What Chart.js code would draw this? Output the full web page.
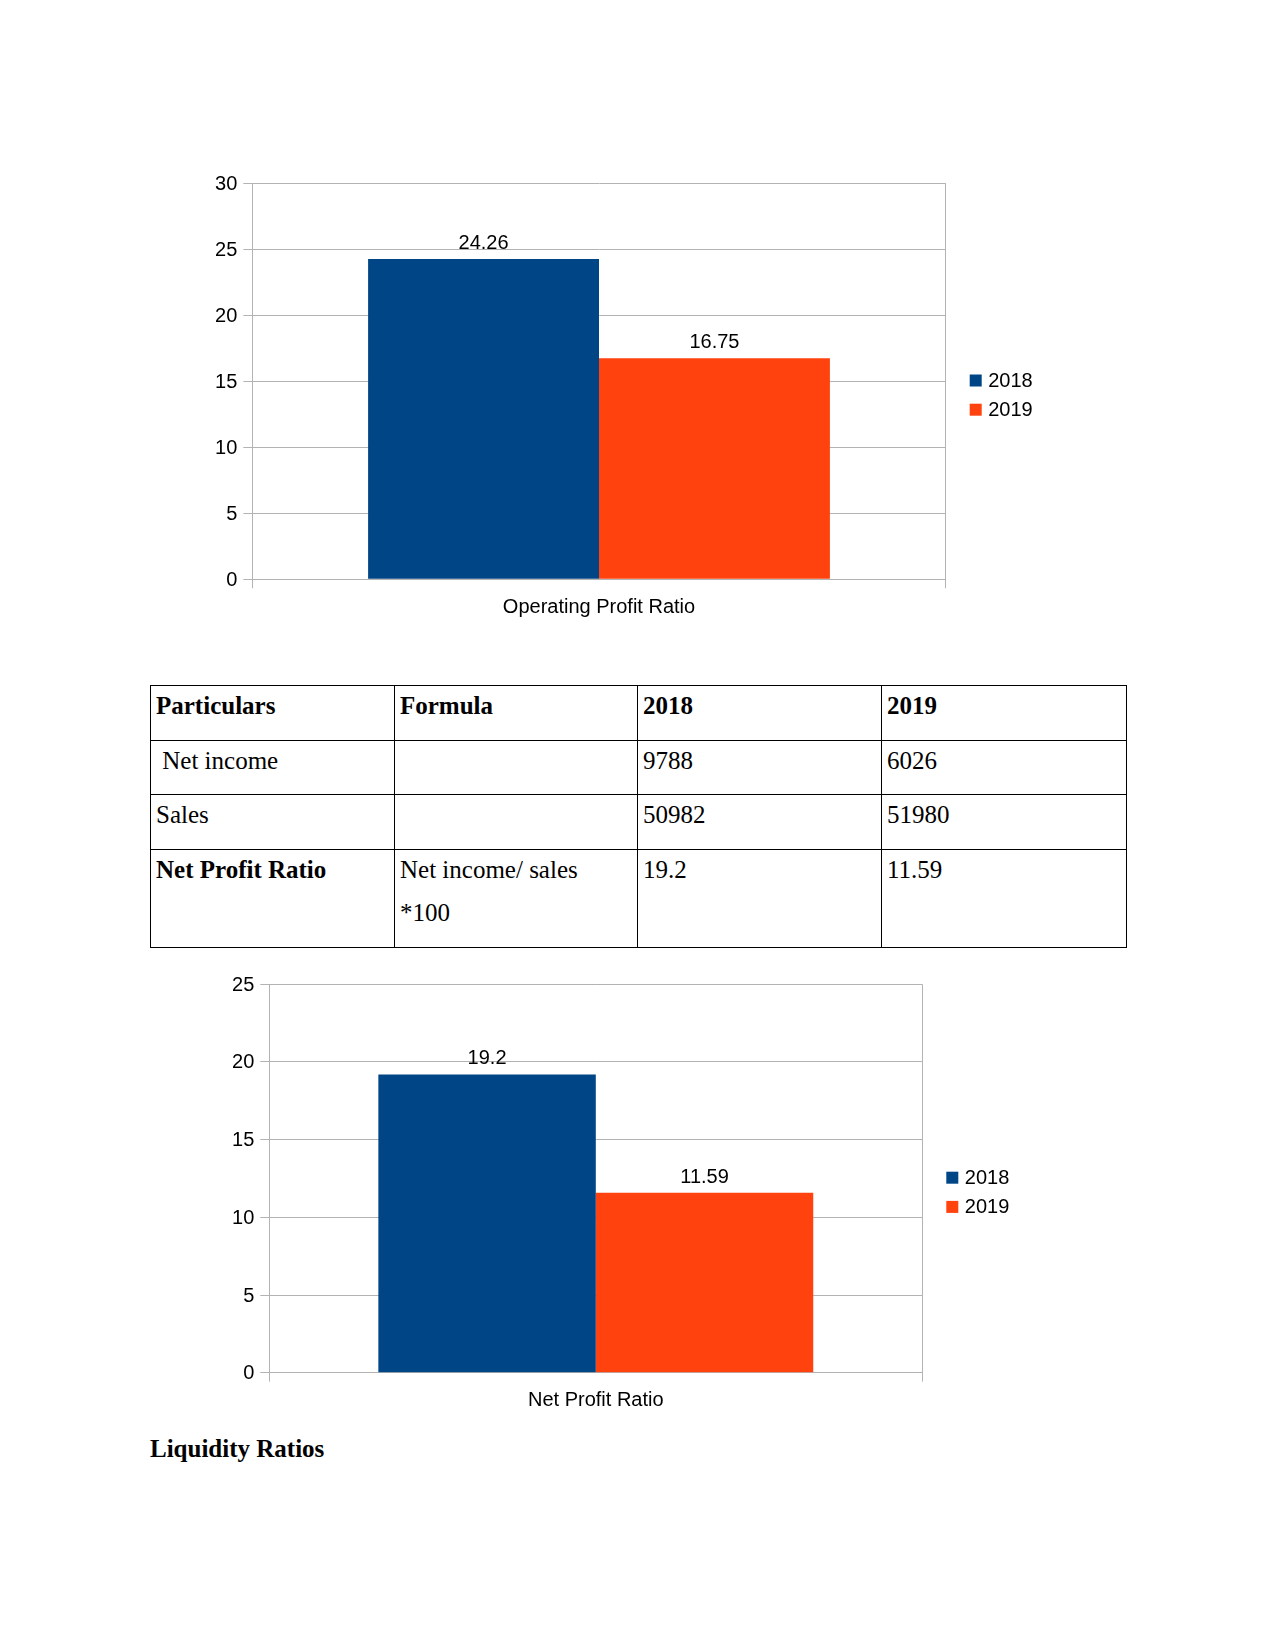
<!DOCTYPE html>
<html>
<head>
<meta charset="utf-8">
<script src="https://cdn.jsdelivr.net/npm/chart.js@4.4.1/dist/chart.umd.min.js"></script>
<style>
  body { margin: 0; background: #fff; }
  .page { position: relative; width: 1275px; height: 1650px; }
  canvas { position: absolute; }
  .grid {
    position: absolute; left: 150px; top: 685px;
    display: grid;
    grid-template-columns: 244px 243px 244px 245px;
    grid-template-rows: 55px 54px 55px 98px;
    border-left: 1px solid #000; border-top: 1px solid #000;
    font-family: "Liberation Serif", serif; font-size: 25px; color: #000;
  }
  .grid div.cell {
    border-right: 1px solid #000; border-bottom: 1px solid #000;
    padding-left: 5px; line-height: 42.7px;
  }
  .grid div.cell span { position: relative; top: -1px; }
  .bold { font-weight: bold; }
  .heading {
    position: absolute; left: 150px; top: 1435px;
    font-family: "Liberation Serif", serif; font-size: 25px; font-weight: bold;
  }
</style>
</head>
<body>
<div class="page">
  <canvas id="opChart" width="900" height="480" style="left:150px; top:150px;"></canvas>
  <div class="grid" id="ratioTable"></div>
  <canvas id="netChart" width="900" height="480" style="left:150px; top:955px;"></canvas>
  <div class="heading">Liquidity Ratios</div>
</div>
<script>
const seriesLabels = ['2018', '2019'];
const seriesColors = ['#004586', '#ff420e'];

const opCategories = ['Operating Profit Ratio'];
const opValues2018 = [24.26];
const opValues2019 = [16.75];

const netCategories = ['Net Profit Ratio'];
const netValues2018 = [19.2];
const netValues2019 = [11.59];

const tableHeader = ['Particulars', 'Formula', '2018', '2019'];
const tableRows = [
    ['\u00a0Net income', '', '9788', '6026'],
    ['Sales', '', '50982', '51980'],
    ['Net Profit Ratio', 'Net income/ sales<br>*100', '19.2', '11.59']
];

const FONT = '"Liberation Sans", Arial, sans-serif';

function buildTable() {
    const table = document.getElementById('ratioTable');
    const rows = [tableHeader].concat(tableRows);
    rows.forEach((row, r) => {
        row.forEach((text, c) => {
            const cell = document.createElement('div');
            cell.className = 'cell';
            if (r === 0 || (r === 3 && c === 0)) cell.classList.add('bold');
            cell.innerHTML = '<span>' + text + '</span>';
            table.appendChild(cell);
        });
    });
}

const barLabels = {
    id: 'barLabels',
    afterDatasetsDraw(chart) {
        const ctx = chart.ctx;
        ctx.save();
        ctx.font = '20px ' + FONT;
        ctx.fillStyle = '#000';
        ctx.textAlign = 'center';
        ctx.textBaseline = 'alphabetic';
        chart.data.datasets.forEach((ds, i) => {
            chart.getDatasetMeta(i).data.forEach((bar, j) => {
                ctx.fillText(String(ds.data[j]), bar.x, bar.y - 10);
            });
        });
        ctx.restore();
    }
};

// legend to the right of the plot, like the office chart
const sideLegend = {
    id: 'sideLegend',
    afterDraw(chart) {
        const area = chart.chartArea;
        const ctx = chart.ctx;
        const mid = (area.top + area.bottom) / 2;
        ctx.save();
        ctx.font = '20px ' + FONT;
        ctx.textAlign = 'left';
        ctx.textBaseline = 'alphabetic';
        chart.data.datasets.forEach((ds, i) => {
            const y = mid + i * 29.2;
            ctx.fillStyle = ds.backgroundColor;
            ctx.fillRect(area.right + 24, y - 6.8, 12, 12);
            ctx.fillStyle = '#000';
            ctx.fillText(ds.label, area.right + 42.5, y + 5.6);
        });
        ctx.restore();
    }
};

function createBarChart(canvasId, categories, values2018, values2019, yMax, padding) {
    const ctx = document.getElementById(canvasId).getContext('2d');
    return new Chart(ctx, {
        type: 'bar',
        data: {
            labels: categories,
            datasets: [
                { label: seriesLabels[0], data: values2018, backgroundColor: seriesColors[0] },
                { label: seriesLabels[1], data: values2019, backgroundColor: seriesColors[1] }
            ]
        },
        options: {
            responsive: false,
            animation: false,
            devicePixelRatio: 1,
            layout: { padding: padding },
            datasets: { bar: { barPercentage: 1, categoryPercentage: 0.666, borderWidth: 0 } },
            plugins: {
                legend: { display: false },
                title: { display: false },
                tooltip: { enabled: false }
            },
            scales: {
                x: {
                    offset: true,
                    grid: { offset: true, color: '#b3b3b3', tickLength: 9 },
                    border: { color: '#b3b3b3' },
                    ticks: { color: '#000', font: { family: FONT, size: 20 }, padding: 7, maxRotation: 0 },
                    afterFit(scale) { scale.height = 45; }
                },
                y: {
                    min: 0,
                    max: yMax,
                    grid: { color: '#b3b3b3', tickLength: 9 },
                    border: { color: '#b3b3b3' },
                    ticks: { stepSize: 5, color: '#000', font: { family: FONT, size: 20 }, padding: 6, labelOffset: 1 },
                    afterFit(scale) { scale.width = 60; }
                }
            }
        },
        plugins: [barLabels, sideLegend]
    });
}

buildTable();
createBarChart('opChart', opCategories, opValues2018, opValues2019, 30,
    { left: 42.3, top: 33.3, right: 104.3, bottom: 5.7 });
createBarChart('netChart', netCategories, netValues2018, netValues2019, 25,
    { left: 59.3, top: 29.3, right: 127.7, bottom: 17.3 });
</script>
</body>
</html>
